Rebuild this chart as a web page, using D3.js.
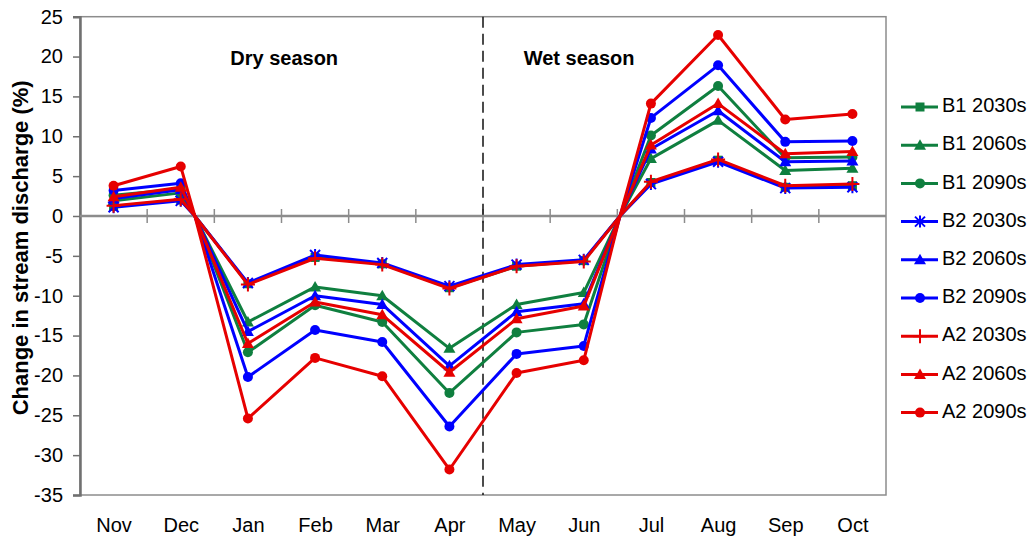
<!DOCTYPE html>
<html>
<head>
<meta charset="utf-8">
<script src="https://cdn.jsdelivr.net/npm/d3@7"></script>
<style>
  body { margin: 0; background: #fff; }
  text { font-family: "Liberation Sans", Arial, sans-serif; fill: #000; }
</style>
</head>
<body>
<svg id="chart" width="1032" height="540"></svg>
<script>
// Months on the x axis (hydrological year, Nov to Oct)
const months = ["Nov", "Dec", "Jan", "Feb", "Mar", "Apr", "May", "Jun", "Jul", "Aug", "Sep", "Oct"];
// Y axis tick labels (%)
const yTickValues = [25, 20, 15, 10, 5, 0, -5, -10, -15, -20, -25, -30, -35];
// Season annotations and the split between them (month-index units, Apr|May)
const seasonLabels = ["Dry season", "Wet season"];
const seasonSplit = 5.5;
// Month-index positions where every series passes through 0 %
const zeroCrossings = [1.21, 7.54];

// Change in stream discharge (%) per scenario and period
const b1_2030s = [1.2, 2.0, -8.5, -5.2, -6.0, -9.0, -6.3, -5.6, 4.2, 7.0, 3.6, 3.8];
const b1_2060s = [1.9, 2.9, -13.3, -8.9, -10.0, -16.6, -11.1, -9.6, 7.2, 12.0, 5.7, 6.0];
const b1_2090s = [2.6, 3.4, -17.1, -11.2, -13.3, -22.2, -14.6, -13.6, 10.1, 16.3, 7.3, 7.4];
const b2_2030s = [1.1, 1.9, -8.4, -4.9, -5.9, -8.8, -6.1, -5.5, 4.0, 6.8, 3.5, 3.6];
const b2_2060s = [2.2, 3.3, -14.5, -10.0, -11.1, -18.8, -12.0, -11.0, 8.4, 13.2, 6.8, 6.9];
const b2_2090s = [3.2, 4.1, -20.2, -14.3, -15.8, -26.4, -17.3, -16.3, 12.3, 18.9, 9.3, 9.4];
const a2_2030s = [1.3, 2.1, -8.6, -5.3, -6.1, -9.1, -6.3, -5.7, 4.3, 7.1, 3.8, 4.0];
const a2_2060s = [2.4, 3.6, -16.0, -10.8, -12.4, -19.6, -12.9, -11.3, 8.9, 14.1, 7.8, 8.1];
const a2_2090s = [3.8, 6.2, -25.4, -17.8, -20.1, -31.8, -19.7, -18.1, 14.1, 22.7, 12.1, 12.8];

const GREEN = "#0f7f3f", BLUE = "#0000ff", RED = "#e60000";

const series = [
  { name: "B1 2030s", values: b1_2030s, color: GREEN, marker: "square" },
  { name: "B1 2060s", values: b1_2060s, color: GREEN, marker: "triangle" },
  { name: "B1 2090s", values: b1_2090s, color: GREEN, marker: "circle" },
  { name: "B2 2030s", values: b2_2030s, color: BLUE, marker: "asterisk" },
  { name: "B2 2060s", values: b2_2060s, color: BLUE, marker: "triangle" },
  { name: "B2 2090s", values: b2_2090s, color: BLUE, marker: "circle" },
  { name: "A2 2030s", values: a2_2030s, color: RED, marker: "plus" },
  { name: "A2 2060s", values: a2_2060s, color: RED, marker: "triangle" },
  { name: "A2 2090s", values: a2_2090s, color: RED, marker: "circle" }
];

const svg = d3.select("#chart");
const plot = { left: 80, right: 886, top: 16.7, bottom: 495 };

const x = d3.scaleLinear().domain([-0.5, months.length - 0.5]).range([plot.left, plot.right]);
const y = d3.scaleLinear().domain([-35, 25]).range([plot.bottom, plot.top]);

// Plot area frame
svg.append("rect")
  .attr("x", plot.left).attr("y", plot.top)
  .attr("width", plot.right - plot.left).attr("height", plot.bottom - plot.top)
  .attr("fill", "none").attr("stroke", "#8c8c8c").attr("stroke-width", 1.5);

// Y axis (plain hyphen for negative numbers)
const yAxis = d3.axisLeft(y).tickValues(yTickValues).tickSize(7).tickPadding(10).tickFormat(d => String(d));
const yg = svg.append("g").attr("transform", `translate(${plot.left},0)`).call(yAxis);
yg.select(".domain").attr("stroke", "#707070").attr("stroke-width", 2.5);
yg.selectAll(".tick line").attr("stroke", "#707070").attr("stroke-width", 1.5);
yg.selectAll(".tick text")
  .style("font-family", "'Liberation Sans', Arial, sans-serif")
  .style("font-size", "20px").attr("fill", "#000");

// Zero line with category boundary ticks crossing it
const zg = svg.append("g");
zg.append("line")
  .attr("x1", plot.left).attr("x2", plot.right)
  .attr("y1", y(0)).attr("y2", y(0))
  .attr("stroke", "#8c8c8c").attr("stroke-width", 2.5);
zg.selectAll("line.b")
  .data(d3.range(1, months.length))
  .join("line").attr("class", "b")
  .attr("x1", d => x(d - 0.5)).attr("x2", d => x(d - 0.5))
  .attr("y1", y(0) - 7).attr("y2", y(0) + 7)
  .attr("stroke", "#8c8c8c").attr("stroke-width", 1.5);

// Month labels along the bottom
const xAxis = d3.axisBottom(x).tickValues(d3.range(months.length))
  .tickFormat(i => months[i]).tickSize(0).tickPadding(23);
const xg = svg.append("g").attr("transform", `translate(0,${plot.bottom})`).call(xAxis);
xg.select(".domain").remove();
xg.selectAll(".tick text")
  .style("font-family", "'Liberation Sans', Arial, sans-serif")
  .style("font-size", "20px").attr("fill", "#000");

// Season divider
svg.append("line")
  .attr("x1", x(seasonSplit)).attr("x2", x(seasonSplit))
  .attr("y1", plot.top).attr("y2", plot.bottom)
  .attr("stroke", "#111").attr("stroke-width", 1.5)
  .attr("stroke-dasharray", "11,6");

svg.selectAll("text.season")
  .data(seasonLabels)
  .join("text").attr("class", "season")
  .attr("x", (d, k) => k === 0 ? x(2.54) : x(6.93))
  .attr("y", y(19))
  .attr("text-anchor", "middle")
  .style("font-size", "20px").style("font-weight", "bold")
  .text(d => d);

// Y axis title
svg.append("text")
  .attr("transform", `translate(22,${(plot.top + plot.bottom) / 2 - 8}) rotate(-90)`)
  .attr("text-anchor", "middle")
  .attr("dominant-baseline", "middle")
  .style("font-size", "22px").style("font-weight", "bold")
  .text("Change in stream discharge (%)");

// Marker shapes
function markerPath(type) {
  switch (type) {
    case "square": return "M-4.5,-4.5H4.5V4.5H-4.5Z";
    case "triangle": return "M0,-6L6,4.5L-6,4.5Z";
    case "asterisk": return "M0,-6V6M-5,-5L5,5M-5,5L5,-5";
    case "plus": return "M0,-7V7M-7,0H7";
    default: return null;
  }
}
function drawMarker(g, type, color) {
  if (type === "circle") {
    g.append("circle").attr("r", 5).attr("fill", color);
  } else if (type === "asterisk" || type === "plus") {
    g.append("path").attr("d", markerPath(type)).attr("fill", "none")
      .attr("stroke", color).attr("stroke-width", 2);
  } else {
    g.append("path").attr("d", markerPath(type)).attr("fill", color);
  }
}

const line = d3.line().x(d => x(d.i)).y(d => y(d.v));

series.forEach(s => {
  const pts = s.values.map((v, i) => ({ i, v }))
    .concat(zeroCrossings.map(i => ({ i, v: 0 })))
    .sort((a, b) => a.i - b.i);
  const g = svg.append("g");
  g.append("path").datum(pts)
    .attr("d", line).attr("fill", "none")
    .attr("stroke", s.color).attr("stroke-width", 3)
    .attr("stroke-linejoin", "round");
  s.values.forEach((v, i) => {
    const m = g.append("g").attr("transform", `translate(${x(i)},${y(v)})`);
    drawMarker(m, s.marker, s.color);
  });
});

// Legend
const legend = svg.append("g");
series.forEach((s, k) => {
  const ly = 107 + k * 38.2;
  const row = legend.append("g").attr("transform", `translate(0,${ly})`);
  row.append("line").attr("x1", 901).attr("x2", 938).attr("y1", 0).attr("y2", 0)
    .attr("stroke", s.color).attr("stroke-width", 3);
  drawMarker(row.append("g").attr("transform", "translate(920,0)"), s.marker, s.color);
  row.append("text").attr("x", 942).attr("y", 0)
    .attr("dominant-baseline", "middle")
    .style("font-size", "20px")
    .text(s.name);
});
</script>
</body>
</html>
